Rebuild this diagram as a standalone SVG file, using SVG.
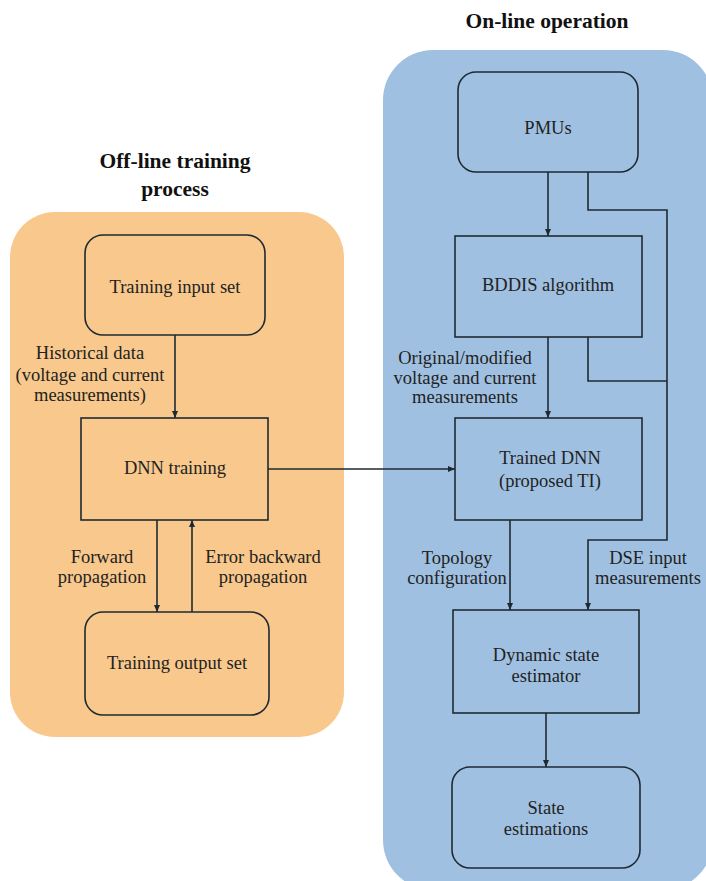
<svg xmlns="http://www.w3.org/2000/svg" width="706" height="881" viewBox="0 0 706 881">
<defs>
<marker id="ah" markerWidth="8" markerHeight="8" refX="7" refY="4" orient="auto" markerUnits="userSpaceOnUse">
<path d="M0,1 L7,4 L0,7 Z" fill="#1e2a33"/>
</marker>
<style>
text{font-family:'Liberation Serif',serif}
.t{font-size:18.5px;fill:#222;text-anchor:middle}
.h{font-size:21.5px;font-weight:bold;fill:#111;text-anchor:middle}
.n{fill:none;stroke:#1e2a33;stroke-width:1.6}
.c{fill:none;stroke:#1e2a33;stroke-width:1.6}
</style>
</defs>
<rect width="706" height="881" fill="#ffffff"/>
<g id="offline-panel">
<rect x="10" y="212" width="334" height="525" rx="45" fill="#F8C88C"/>
<text class="h" x="175" y="168" font-family="Liberation Serif, serif">Off-line training</text>
<text class="h" x="175" y="196" font-family="Liberation Serif, serif">process</text>
</g>
<g id="online-panel">
<rect x="383" y="50" width="330" height="840" rx="50" fill="#9FC0E1"/>
<text class="h" x="547" y="28" font-family="Liberation Serif, serif">On-line operation</text>
</g>
<g id="training-input">
<rect class="n" x="85" y="235" width="180" height="100" rx="18"/>
<text class="t" x="175" y="293" font-family="Liberation Serif, serif">Training input set</text>
</g>
<g id="dnn-training">
<rect class="n" x="81" y="418" width="187" height="102"/>
<text class="t" x="175" y="474" font-family="Liberation Serif, serif">DNN training</text>
</g>
<g id="training-output">
<rect class="n" x="85" y="612" width="184" height="103" rx="18"/>
<text class="t" x="177" y="669" font-family="Liberation Serif, serif">Training output set</text>
</g>
<g id="pmus">
<rect class="n" x="458" y="72" width="180" height="100" rx="18"/>
<text class="t" x="548" y="134" font-family="Liberation Serif, serif">PMUs</text>
</g>
<g id="bddis">
<rect class="n" x="455" y="236" width="187" height="101"/>
<text class="t" x="548" y="291" font-family="Liberation Serif, serif">BDDIS algorithm</text>
</g>
<g id="trained-dnn">
<rect class="n" x="455" y="418" width="187" height="102"/>
<text class="t" x="550" y="464" font-family="Liberation Serif, serif">Trained DNN</text>
<text class="t" x="550" y="487" font-family="Liberation Serif, serif">(proposed TI)</text>
</g>
<g id="dse">
<rect class="n" x="453" y="610" width="186" height="103"/>
<text class="t" x="546" y="661" font-family="Liberation Serif, serif">Dynamic state</text>
<text class="t" x="546" y="682" font-family="Liberation Serif, serif">estimator</text>
</g>
<g id="state-estimations">
<rect class="n" x="452" y="767" width="188" height="101" rx="18"/>
<text class="t" x="546" y="814" font-family="Liberation Serif, serif">State</text>
<text class="t" x="546" y="835" font-family="Liberation Serif, serif">estimations</text>
</g>
<g id="connectors">
<line class="c" x1="175" y1="335" x2="175" y2="418" marker-end="url(#ah)"/>
<line class="c" x1="157" y1="520" x2="157" y2="612" marker-end="url(#ah)"/>
<line class="c" x1="192" y1="612" x2="192" y2="520" marker-end="url(#ah)"/>
<line class="c" x1="268" y1="469" x2="455" y2="469" marker-end="url(#ah)"/>
<line class="c" x1="548" y1="172" x2="548" y2="236" marker-end="url(#ah)"/>
<line class="c" x1="548" y1="337" x2="548" y2="418" marker-end="url(#ah)"/>
<polyline class="c" points="588,172 588,210 667,210 667,540 588,540 588,610" marker-end="url(#ah)"/>
<polyline class="c" points="588,337 588,381 667,381"/>
<line class="c" x1="510" y1="520" x2="510" y2="610" marker-end="url(#ah)"/>
<line class="c" x1="546" y1="713" x2="546" y2="767" marker-end="url(#ah)"/>
</g>
<g id="labels" font-family="Liberation Serif, serif">
<text class="t" x="90" y="359">Historical data</text>
<text class="t" x="90" y="381">(voltage and current</text>
<text class="t" x="90" y="401">measurements)</text>
<text class="t" x="465" y="364">Original/modified</text>
<text class="t" x="465" y="384">voltage and current</text>
<text class="t" x="465" y="403">measurements</text>
<text class="t" x="102" y="563">Forward</text>
<text class="t" x="102" y="583">propagation</text>
<text class="t" x="263" y="563">Error backward</text>
<text class="t" x="263" y="583">propagation</text>
<text class="t" x="457" y="564">Topology</text>
<text class="t" x="457" y="584">configuration</text>
<text class="t" x="648" y="564">DSE input</text>
<text class="t" x="648" y="584">measurements</text>
</g>
</svg>
